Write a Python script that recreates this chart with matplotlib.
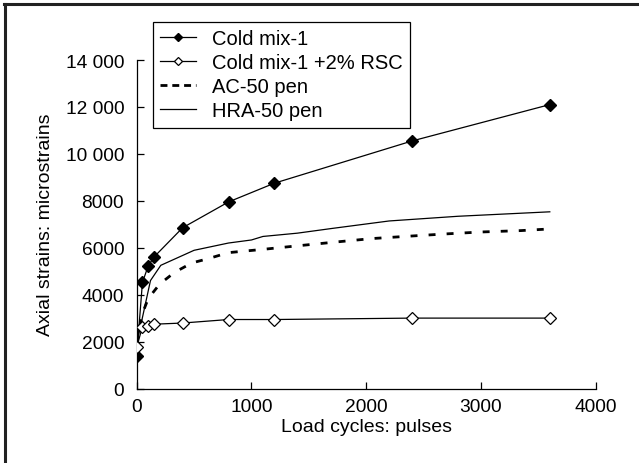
import matplotlib
matplotlib.use("Agg")
import matplotlib.pyplot as plt
from matplotlib.lines import Line2D

plt.rcParams["font.family"] = ["Liberation Sans", "DejaVu Sans"]
plt.rcParams["lines.scale_dashes"] = False

# data
cycles = [0, 50, 100, 150, 400, 800, 1200, 2400, 3600]
cold_mix = [1400, 4520, 5220, 5600, 6850, 7950, 8750, 10550, 12100]
cold_mix_rsc = [1750, 2640, 2680, 2740, 2790, 2940, 2940, 3000, 3000]

ac_cycles = [0, 50, 100, 200, 330, 480, 620, 800, 1100, 1400, 1750, 2050, 2400, 2700, 3000, 3350, 3600]
ac_50 = [1900, 3200, 3830, 4450, 4950, 5350, 5530, 5790, 5930, 6080, 6250, 6390, 6500, 6590, 6670, 6730, 6800]

hra_cycles = [0, 120, 210, 500, 800, 1000, 1100, 1400, 1700, 2200, 2800, 3600]
hra_50 = [1900, 4600, 5250, 5890, 6200, 6330, 6480, 6620, 6820, 7140, 7340, 7530]

x_ticks = [0, 1000, 2000, 3000, 4000]
y_ticks = [0, 2000, 4000, 6000, 8000, 10000, 12000, 14000]
y_labels = ["0", "2000", "4000", "6000", "8000", "10 000", "12 000", "14 000"]

fig = plt.figure(figsize=(6.39, 4.64), dpi=100)
ax = fig.add_axes([136.7 / 639, 1 - 389.5 / 464, 459 / 639, 328.5 / 464])

ax.plot(cycles, cold_mix, color="black", lw=0.9, marker="D", ms=6.5,
        mfc="black", mec="black", label="Cold mix-1", zorder=4)
ax.plot(cycles, cold_mix_rsc, color="black", lw=0.9, marker="D", ms=6.5,
        mfc="white", mec="black", mew=0.9, label="Cold mix-1 +2% RSC", zorder=4)
ac_line, = ax.plot(ac_cycles, ac_50, color="black", lw=2.0, label="AC-50 pen", zorder=3)
ac_line.set_dashes([5, 8])
ax.plot(hra_cycles, hra_50, color="black", lw=0.9, label="HRA-50 pen", zorder=3)

ax.set_xlim(0, 4000)
ax.set_ylim(0, 14000)
ax.set_xticks(x_ticks)
ax.set_yticks(y_ticks)
ax.set_yticklabels(y_labels)
ax.tick_params(direction="in", length=5, width=0.9, labelsize=13.8, colors="black")
ax.tick_params(axis="y", pad=9)
ax.tick_params(axis="x", pad=7)
for side in ["top", "right"]:
    ax.spines[side].set_visible(False)
for side in ["left", "bottom"]:
    ax.spines[side].set_linewidth(0.9)

ax.set_xlabel("Load cycles: pulses", fontsize=14, labelpad=2)
ax.set_ylabel("Axial strains: microstrains", fontsize=14, labelpad=8)

leg = ax.legend(loc="upper left", bbox_to_anchor=(153.3 / 639, 1 - 22.7 / 464),
                bbox_transform=fig.transFigure, borderaxespad=0, fontsize=14.5,
                frameon=True, fancybox=False, edgecolor="black", framealpha=1,
                markerscale=0.6, handlelength=1.75, handletextpad=0.8,
                labelspacing=0.26, borderpad=0.35)
leg.get_frame().set_linewidth(0.9)
leg.get_lines()[2].set_dashes([5, 3.5])

# border of the cropped figure frame
fig.add_artist(Line2D([4 / 639, 1], [1 - 5 / 464, 1 - 5 / 464], color="#222222", lw=2.2,
                      transform=fig.transFigure))
fig.add_artist(Line2D([5 / 639, 5 / 639], [0, 1 - 5 / 464], color="#222222", lw=2.2,
                      transform=fig.transFigure))

fig.savefig("out.png", dpi=100)
